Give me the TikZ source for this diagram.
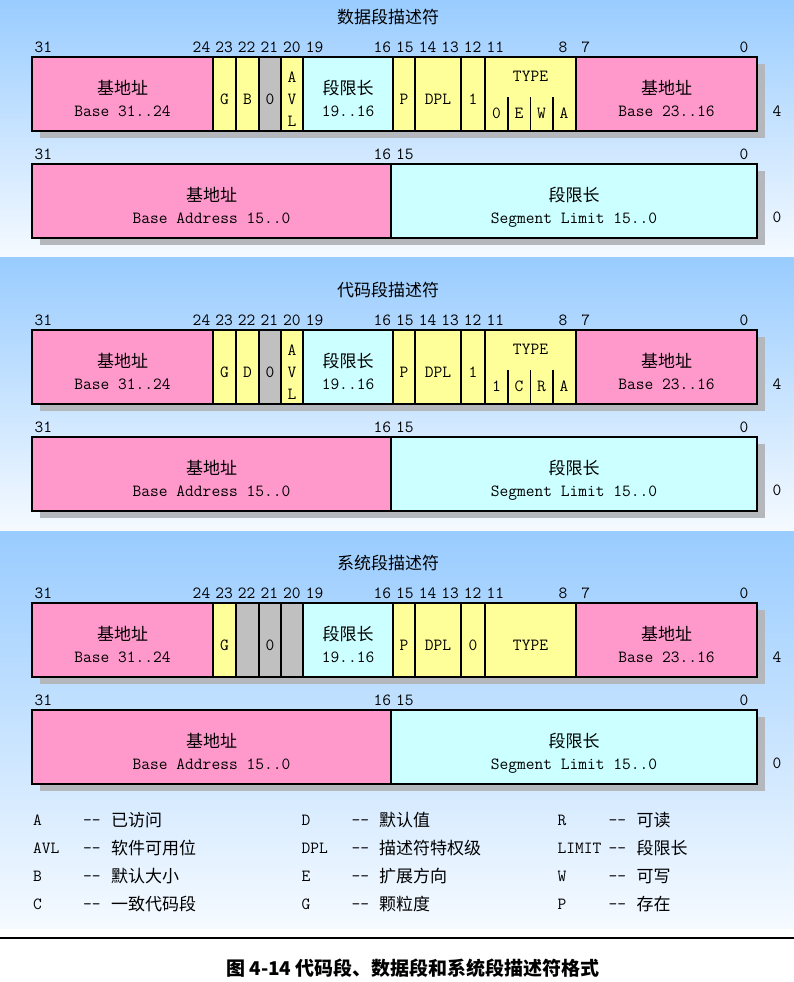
\documentclass[tikz,border=0pt]{standalone}
\usepackage{fontspec}
\newfontfamily\hanzi{Noto Sans CJK SC}
\newcommand\hzfont{\hanzi\fontsize{17}{20}\selectfont}
\newcommand\mofont{\ttfamily\fontsize{17}{20}\selectfont}
\definecolor{basepink}{HTML}{FF99CC}
\definecolor{flagyel}{HTML}{FFFF99}
\definecolor{rsvgrey}{HTML}{C0C0C0}
\definecolor{limcyan}{HTML}{CCFFFF}
\definecolor{shadow}{HTML}{B4B8BC}
\definecolor{bgtop}{HTML}{99CCFF}
\definecolor{bgbot}{HTML}{F5FAFF}

\begin{document}
\begin{tikzpicture}[x=1pt,y=-1pt,
    fld/.style={draw=black,line width=1.1pt},
    mono/.style={font=\mofont,inner sep=0pt,text height=10.4pt,text depth=0pt},
    han/.style={font=\hzfont,inner sep=0pt,text height=12.6pt,text depth=0pt},
    panel/.style={top color=bgtop,bottom color=bgbot}]
    \useasboundingbox (0,0) rectangle (794,982);
    \shade[panel] (0,0)   rectangle (794,257);
    \shade[panel] (0,257) rectangle (794,531);
    \shade[panel] (0,531) rectangle (794,928);

    % common parts of the three descriptors
    \foreach \k/\ttl in {0/数据段描述符,1/代码段描述符,2/系统段描述符}{
    \begin{scope}[shift={(0,273*\k)}]
        \node[han] (ttl\k) at (388,17) {\ttl};
        \fill[shadow] (40,64) rectangle (765,138);
        \fill[shadow] (40,171) rectangle (765,245);
        % high word
        \draw[fld,fill=basepink] (32,57) rectangle (213,131);
        \draw[fld,fill=flagyel]  (213,57) rectangle (236,131);
        \draw[fld,fill=limcyan]  (303,57) rectangle (393,131);
        \draw[fld,fill=flagyel]  (393,57) rectangle (415,131);
        \draw[fld,fill=flagyel]  (415,57) rectangle (461,131);
        \draw[fld,fill=flagyel]  (461,57) rectangle (485,131);
        \draw[fld,fill=flagyel]  (485,57) rectangle (576,131);
        \draw[fld,fill=basepink] (576,57) rectangle (757,131);
        \node[han]  (bh\k)  at (122.5,88)  {基地址};
        \node[mono] (bhl\k) at (122.5,111) {Base 31..24};
        \node[mono] (g\k)   at (224.5,99)  {G};
        \node[han]  (lh\k)  at (348,88)    {段限长};
        \node[mono] (lhl\k) at (348,111)   {19..16};
        \node[mono] (p\k)   at (404,99)    {P};
        \node[mono] (dpl\k) at (438,99)    {DPL};
        \node[han]  (bm\k)  at (666.5,88)  {基地址};
        \node[mono] (bml\k) at (666.5,111) {Base 23..16};
        \foreach \b in {31,24,23,22,21,20,19,16,15,14,13,12,11,8,7,0}
            \node[mono] (n\k-\b) at ({32+(31.5-\b)*22.6},47) {\b};
        \node[mono] (off4\k) at (777,111) {4};
        % low word
        \draw[fld,fill=basepink] (32,164) rectangle (391,238);
        \draw[fld,fill=limcyan]  (391,164) rectangle (757,238);
        \node[han]  (bl\k)  at (211.5,195) {基地址};
        \node[mono] (bll\k) at (211.5,218) {Base Address 15..0};
        \node[han]  (ll\k)  at (574,195)   {段限长};
        \node[mono] (lll\k) at (574,218)   {Segment Limit 15..0};
        \foreach \b in {31,16,15,0}
            \node[mono] (m\k-\b) at ({32+(31.5-\b)*22.6},154) {\b};
        \node[mono] (off0\k) at (777,217) {0};
    \end{scope}}

    % data segment
    \draw[fld,fill=flagyel] (236,57) rectangle (259,131);
    \draw[fld,fill=rsvgrey] (259,57) rectangle (281,131);
    \draw[fld,fill=flagyel] (281,57) rectangle (303,131);
    \node[mono] (db)  at (247.5,99) {B};
    \node[mono] (dz)  at (270,99)   {0};
    \node[mono] (da1) at (292,77)   {A};
    \node[mono] (da2) at (292,99)   {V};
    \node[mono] (da3) at (292,121)  {L};
    \node[mono] (ds)  at (473,99)   {1};
    \node[mono] (dtp) at (530.5,76) {TYPE};
    \draw[fld] (508,97) -- (508,131) (530.5,97) -- (530.5,131) (553,97) -- (553,131);
    \node[mono] (dt1) at (496.5,113) {0};
    \node[mono] (dt2) at (519,113)   {E};
    \node[mono] (dt3) at (541.5,113) {W};
    \node[mono] (dt4) at (564,113)   {A};

    % code segment
    \begin{scope}[shift={(0,273)}]
    \draw[fld,fill=flagyel] (236,57) rectangle (259,131);
    \draw[fld,fill=rsvgrey] (259,57) rectangle (281,131);
    \draw[fld,fill=flagyel] (281,57) rectangle (303,131);
    \node[mono] (cd)  at (247.5,99) {D};
    \node[mono] (cz)  at (270,99)   {0};
    \node[mono] (ca1) at (292,77)   {A};
    \node[mono] (ca2) at (292,99)   {V};
    \node[mono] (ca3) at (292,121)  {L};
    \node[mono] (cs)  at (473,99)   {1};
    \node[mono] (ctp) at (530.5,76) {TYPE};
    \draw[fld] (508,97) -- (508,131) (530.5,97) -- (530.5,131) (553,97) -- (553,131);
    \node[mono] (ct1) at (496.5,113) {1};
    \node[mono] (ct2) at (519,113)   {C};
    \node[mono] (ct3) at (541.5,113) {R};
    \node[mono] (ct4) at (564,113)   {A};
    \end{scope}

    % system segment
    \begin{scope}[shift={(0,546)}]
    \draw[fld,fill=rsvgrey] (236,57) rectangle (259,131);
    \draw[fld,fill=rsvgrey] (259,57) rectangle (281,131);
    \draw[fld,fill=rsvgrey] (281,57) rectangle (303,131);
    \node[mono] (sz)  at (270,99)   {0};
    \node[mono] (ss)  at (473,99)   {0};
    \node[mono] (stp) at (530.5,99) {TYPE};
    \end{scope}

    % legend
    \foreach \ab/\txt [count=\i] in {A/已访问,AVL/软件可用位,B/默认大小,C/一致代码段}{
        \node[mono,anchor=west] (la\i) at (33,{792+28*\i}) {\ab};
        \node[mono,anchor=west] (lb\i) at (83,{792+28*\i}) {-{}-};
        \node[han,anchor=west]  (lc\i) at (111,{792+28*\i}) {\txt};}
    \foreach \ab/\txt [count=\i] in {D/默认值,DPL/描述符特权级,E/扩展方向,G/颗粒度}{
        \node[mono,anchor=west] (ma\i) at (301.5,{792+28*\i}) {\ab};
        \node[mono,anchor=west] (mb\i) at (351.5,{792+28*\i}) {-{}-};
        \node[han,anchor=west]  (mc\i) at (379,{792+28*\i}) {\txt};}
    \foreach \ab/\txt [count=\i] in {R/可读,LIMIT/段限长,W/可写,P/存在}{
        \node[mono,anchor=west] (ra\i) at (557.5,{792+28*\i}) {\ab};
        \node[mono,anchor=west] (rb\i) at (608.5,{792+28*\i}) {-{}-};
        \node[han,anchor=west]  (rc\i) at (636.5,{792+28*\i}) {\txt};}

    \draw[line width=2.5pt] (0,938) -- (794,938);
    \node[han,font=\hanzi\bfseries\fontsize{19}{22}\selectfont,text height=14pt] (cap)
        at (413,968) {图 4-14 代码段、数据段和系统段描述符格式};
\end{tikzpicture}
\end{document}
